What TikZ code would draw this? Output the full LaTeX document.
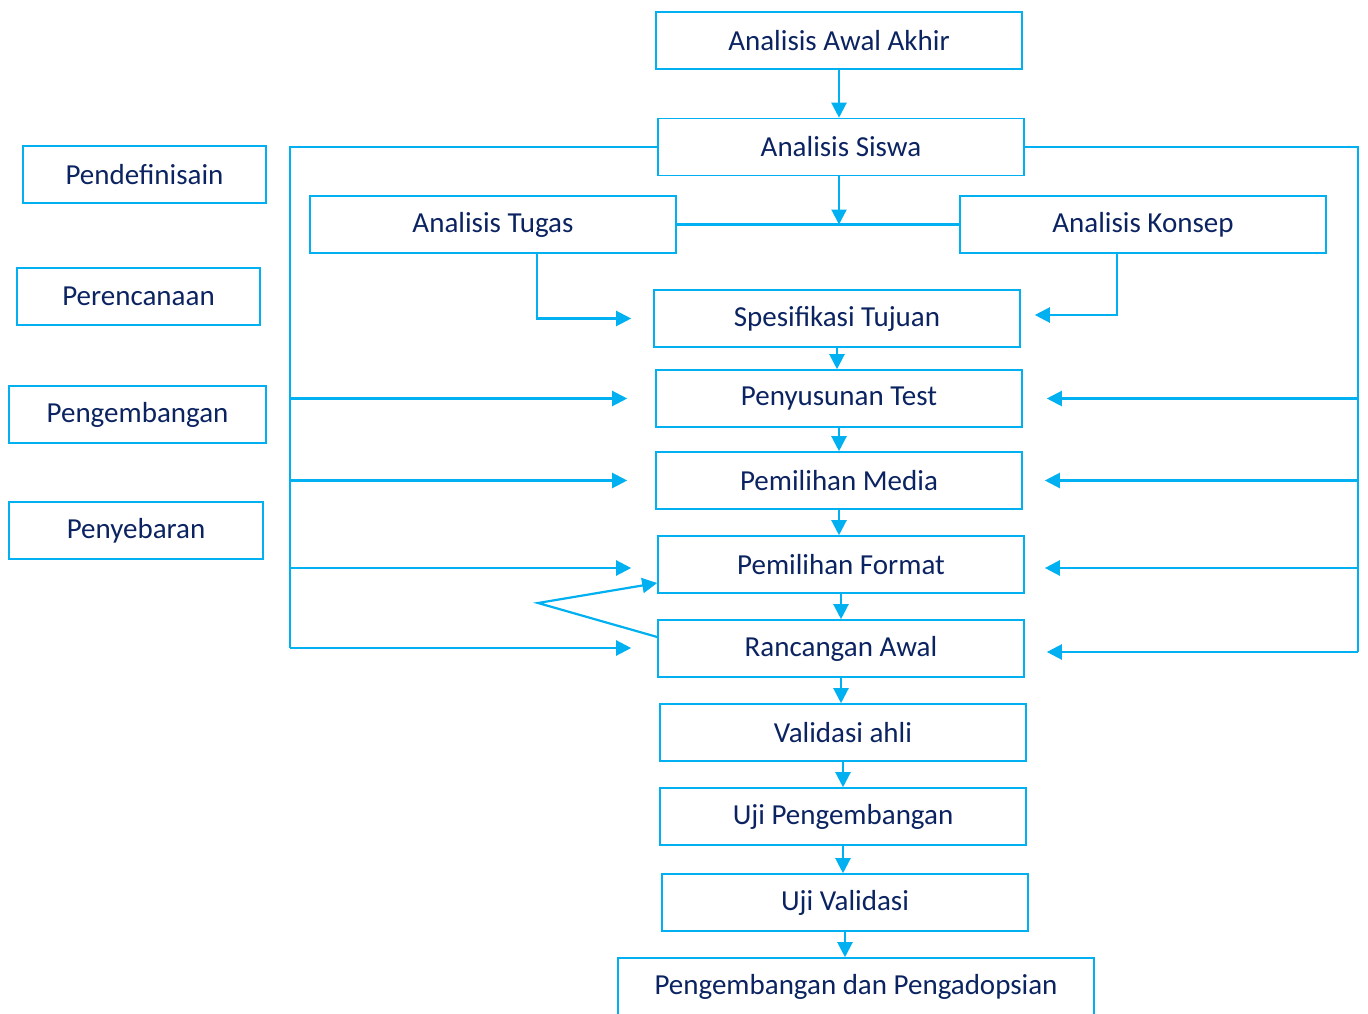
\documentclass[tikz,border=0pt]{standalone}
\usepackage{fontspec}
\setmainfont{Carlito}
\usetikzlibrary{arrows.meta}
\definecolor{biru}{HTML}{00B0F0}
\definecolor{tinta}{HTML}{0B2361}
\tikzset{
  kotak/.style={draw=biru, line width=1.6pt, text=tinta, minimum width=366pt,
    minimum height=57pt, inner sep=0pt, font=\fontsize{29}{33}\selectfont},
  jalur/.style={draw=biru, line width=2.2pt},
  panah/.style={jalur, -{Triangle[length=15pt,width=15pt]}}
}
\begin{document}
\begin{tikzpicture}[x=1pt, y=-1pt]
	\useasboundingbox (0,0) rectangle (1368,1014);
	% tahap kiri
	\node[kotak, minimum width=243pt] (definisi) at (144.5,174.5) {Pendefinisain};
	\node[kotak, minimum width=243pt] (rencana)  at (138.5,296.5) {Perencanaan};
	\node[kotak, minimum width=257pt] (kembang)  at (137.5,414.5) {Pengembangan};
	\node[kotak, minimum width=254pt] (sebar)    at (136,530.5)   {Penyebaran};
	% alur utama
	\node[kotak] (awal)        at (839,40.5)  {Analisis Awal Akhir};
	\node[kotak] (siswa)       at (841,147)   {Analisis Siswa};
	\node[kotak] (tugas)       at (493,224.5) {Analisis Tugas};
	\node[kotak] (konsep)      at (1143,224.5) {Analisis Konsep};
	\node[kotak] (spesifikasi) at (837,318.5) {Spesifikasi Tujuan};
	\node[kotak] (susun)       at (839,398.5) {Penyusunan Test};
	\node[kotak] (media)       at (839,480.5) {Pemilihan Media};
	\node[kotak] (format)      at (841,564.5) {Pemilihan Format};
	\node[kotak] (rancangan)   at (841,648.5) {Rancangan Awal};
	\node[kotak] (validasi)    at (843,732.5) {Validasi ahli};
	\node[kotak] (uji)         at (843,816.5) {Uji Pengembangan};
	\node[kotak] (ujivalid)    at (845,902.5) {Uji Validasi};
	\node[kotak, minimum width=476pt] (adopsi) at (856,986.5) {Pengembangan dan Pengadopsian};
	\coordinate (kiri)  at (290,648);
	\coordinate (kanan) at (1358,652);
	\coordinate (sudut) at (538,603);
	% analisis
	\draw[panah] (awal.south) -- (awal.south |- siswa.north);
	\draw[jalur] (tugas.east) -- (konsep.west);
	\draw[panah] ([xshift=-2pt]siswa.south) -- ([xshift=-2pt]siswa.south |- tugas.east);
	\draw[panah] ([xshift=44pt]tugas.south) |- ([xshift=-22pt]spesifikasi.west);
	\draw[panah] ([xshift=-26pt]konsep.south) |- ([xshift=14pt,yshift=3.5pt]spesifikasi.east);
	% jalur kiri dan kanan
	\draw[jalur] (siswa.west) -| (kiri);
	\draw[jalur] (siswa.east) -| (kanan);
	\draw[panah] (kiri |- susun.west) -- ([xshift=-28pt]susun.west);
	\draw[panah] (kiri |- media.west) -- ([xshift=-28pt]media.west);
	\draw[panah] ([yshift=-3.5pt]kiri |- format.west) -- ([xshift=-26pt,yshift=-3.5pt]format.west);
	\draw[panah] (kiri) -- ([xshift=-26pt]rancangan.west |- kiri);
	\draw[panah] (kanan |- susun.east) -- ([xshift=24pt]susun.east);
	\draw[panah] (kanan |- media.east) -- ([xshift=22pt]media.east);
	\draw[panah] ([yshift=-3.5pt]kanan |- format.east) -- ([xshift=20pt,yshift=-3.5pt]format.east);
	\draw[panah] (kanan) -- ([xshift=22pt]rancangan.east |- kanan);
	% balikan
	\draw[panah] ([yshift=11.5pt]rancangan.west) -- (sudut) -- ([yshift=-18.5pt]format.west);
	% urutan
	\foreach \a/\b in {spesifikasi/susun, susun/media, media/format, format/rancangan,
	    rancangan/validasi, validasi/uji, uji/ujivalid, ujivalid/adopsi}
	  \draw[panah] (\a.south) -- (\a.south |- \b.north);
\end{tikzpicture}
\end{document}
